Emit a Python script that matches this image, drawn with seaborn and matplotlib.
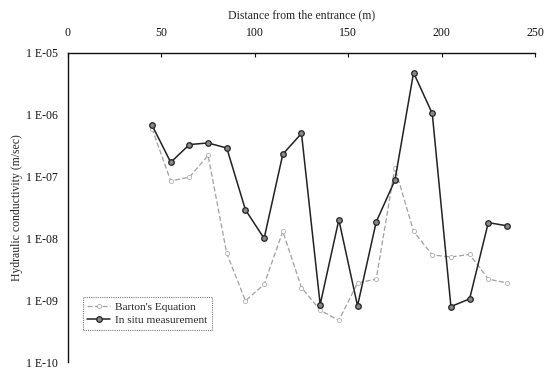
import numpy as np
import pandas as pd
import matplotlib
matplotlib.use("Agg")
import matplotlib.pyplot as plt
import seaborn as sns

distance = [45, 55, 65, 75, 85, 95, 105, 115, 125, 135,
            145, 155, 165, 175, 185, 195, 205, 215, 225, 235]
barton = [6.0e-7, 8.5e-8, 9.8e-8, 2.2e-7, 5.7e-9, 9.8e-10, 1.8e-9, 1.3e-8, 1.6e-9, 6.9e-10,
          4.7e-10, 1.9e-9, 2.2e-9, 1.4e-7, 1.3e-8, 5.4e-9, 5.0e-9, 5.5e-9, 2.2e-9, 1.9e-9]
in_situ = [6.8e-7, 1.7e-7, 3.3e-7, 3.5e-7, 2.9e-7, 2.9e-8, 1.0e-8, 2.3e-7, 5.0e-7, 8.5e-10,
           2.0e-8, 8.1e-10, 1.85e-8, 8.7e-8, 4.8e-6, 1.05e-6, 7.9e-10, 1.05e-9, 1.8e-8, 1.6e-8]
series_names = ["Barton's Equation", "In situ measurement"]
x_ticks = [0, 50, 100, 150, 200, 250]
y_ticks = [1e-5, 1e-6, 1e-7, 1e-8, 1e-9, 1e-10]
y_tick_labels = ["1 E-05", "1 E-06", "1 E-07", "1 E-08", "1 E-09", "1 E-10"]

sns.set_theme(style="white")
plt.rcParams['font.family'] = ['Liberation Serif', 'DejaVu Serif']

fig = plt.figure(figsize=(5.54, 3.68), dpi=100)
ax = fig.add_axes([0.1227, 0.0163, 0.843, 0.8397])

df_b = pd.DataFrame({"x": distance, "y": barton})
df_s = pd.DataFrame({"x": distance, "y": in_situ})

sns.lineplot(data=df_b, x="x", y="y", ax=ax, color="#a0a0a0", linewidth=0.9,
             linestyle=(0, (4, 2)), marker="o", markersize=3,
             markerfacecolor="white", markeredgecolor="#b0b0b0", markeredgewidth=0.6,
             label=series_names[0])
sns.lineplot(data=df_s, x="x", y="y", ax=ax, color="#222222", linewidth=1.1,
             marker="o", markersize=4, markerfacecolor="#888888",
             markeredgecolor="#222222", markeredgewidth=0.9,
             label=series_names[1])

ax.set_yscale("log")
ax.set_ylim(1e-10, 1e-5)
ax.set_xlim(0, 250)
ax.set_xticks(x_ticks)
ax.set_yticks(y_ticks)
ax.set_yticklabels(y_tick_labels)
ax.minorticks_off()

ax.xaxis.tick_top()
ax.xaxis.set_label_position("top")
ax.set_xlabel("Distance from the entrance (m)", fontsize=8.5, labelpad=6)
ax.set_ylabel("Hydraulic conductivity (m/sec)", fontsize=8.5, labelpad=2)
ax.tick_params(axis="x", direction="in", length=3, width=0.8, labelsize=8.5, pad=10, colors="#111111")
ax.tick_params(axis="y", direction="out", length=3, width=0.8, labelsize=8.5, pad=4, colors="#111111")

for side in ["right", "bottom"]:
    ax.spines[side].set_visible(False)
for side in ["left", "top"]:
    ax.spines[side].set_color("#111111")
    ax.spines[side].set_linewidth(1.0)

leg = ax.legend(loc="lower left", bbox_to_anchor=(0.032, 0.105), fontsize=8.2,
                frameon=True, fancybox=False, handlelength=2.0, borderpad=0.4,
                labelspacing=0.3, handletextpad=0.4, borderaxespad=0)
leg.get_frame().set_edgecolor("#555555")
leg.get_frame().set_linestyle((0, (1, 1)))
leg.get_frame().set_linewidth(0.8)

fig.savefig("out.png", dpi=100)
